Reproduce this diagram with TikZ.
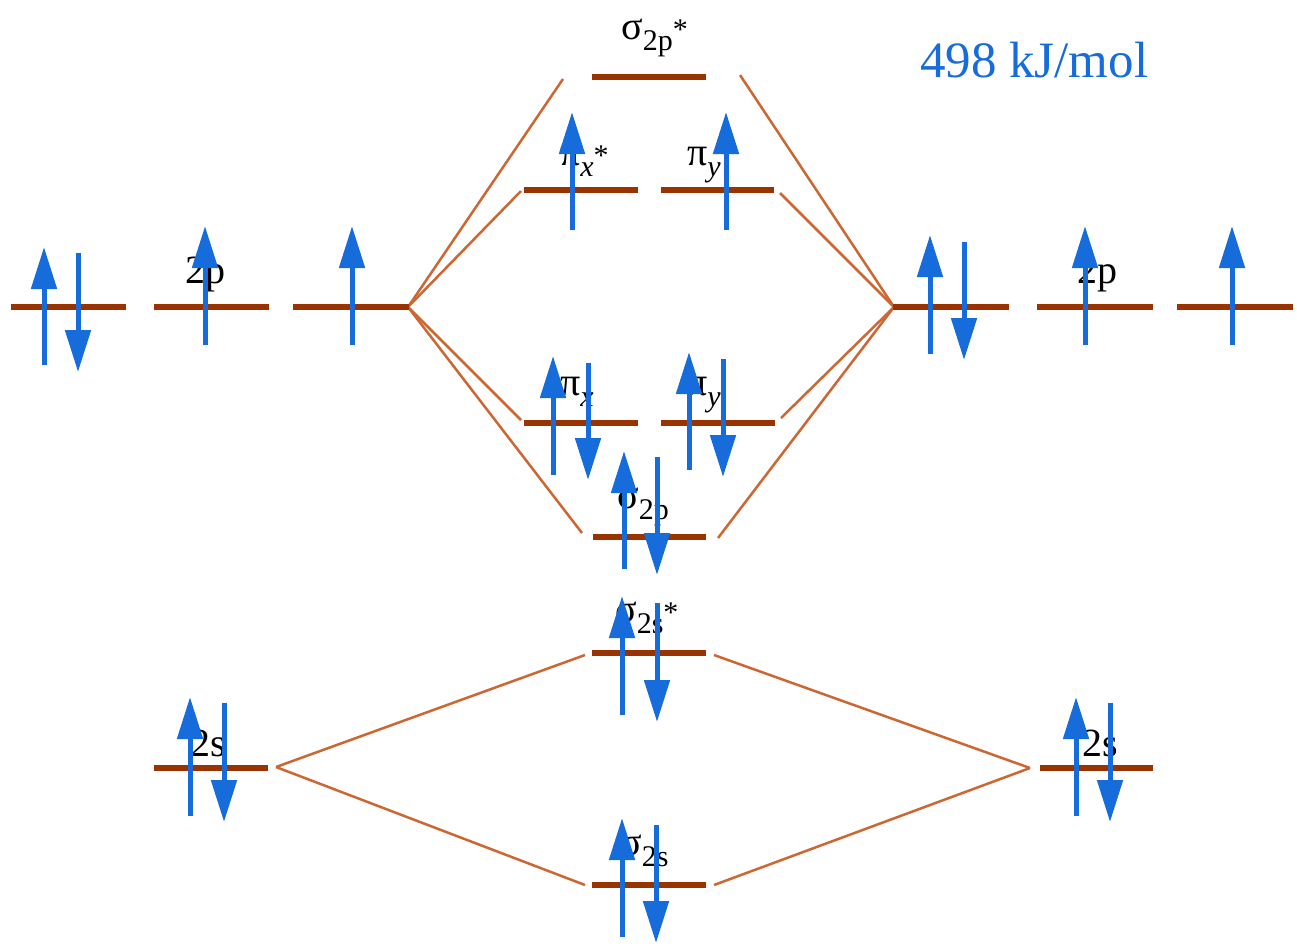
\documentclass[tikz,border=0pt]{standalone}
\usepackage{fontspec}
\setmainfont{Liberation Serif}
\usetikzlibrary{arrows.meta}
\definecolor{lvl}{RGB}{153,51,0}
\definecolor{con}{RGB}{204,102,51}
\definecolor{eblue}{RGB}{22,108,218}
\tikzset{
  level/.style={draw=lvl, line width=6pt},
  conn/.style={draw=con, line width=2.5pt},
  elec/.style={draw=eblue, line width=5pt, -{Triangle[length=42pt,width=25pt]}},
  lbl/.style={font=\fontsize{40}{40}\selectfont, inner sep=0pt, anchor=base west},
}
\newcommand{\mylab}[3]{#1\raisebox{-11pt}{\fontsize{30}{30}\selectfont #2}{\fontsize{30}{30}\selectfont #3}}
\newcommand{\eup}[3]{\draw[elec] (#1,#3) -- (#1,#2);}
\newcommand{\edn}[3]{\draw[elec] (#1,#2) -- (#1,#3);}
\begin{document}
\begin{tikzpicture}[x=1pt,y=-1pt]
\useasboundingbox (0,0) rectangle (1297,951);
% connector end points
\coordinate (pL) at (408,307);
\coordinate (pR) at (894,307);
\coordinate (sL) at (276,767);
\coordinate (sR) at (1030,768);
\coordinate (ssL) at (563,79);   \coordinate (ssR) at (740,75);
\coordinate (pisL) at (521,191); \coordinate (pisR) at (780,193);
\coordinate (piL) at (521,420);  \coordinate (piR) at (781,418);
\coordinate (spL) at (582,533);  \coordinate (spR) at (718,538);
\coordinate (s2sL) at (585,655); \coordinate (s2sR) at (714,655);
\coordinate (s2L) at (585,885);  \coordinate (s2R) at (714,885);
% connectors
\foreach \t in {ssL,pisL,piL,spL} \draw[conn] (pL) -- (\t);
\foreach \t in {ssR,pisR,piR,spR} \draw[conn] (pR) -- (\t);
\foreach \t in {s2sL,s2L} \draw[conn] (sL) -- (\t);
\foreach \t in {s2sR,s2R} \draw[conn] (sR) -- (\t);
% levels
\draw[level] (11,307) -- (126,307);
\draw[level] (154,307) -- (269,307);
\draw[level] (293,307) -- (409,307);
\draw[level] (893,307) -- (1009,307);
\draw[level] (1037,307) -- (1153,307);
\draw[level] (1177,307) -- (1293,307);
\draw[level] (592,77) -- (706,77);
\draw[level] (524,190) -- (638,190);
\draw[level] (661,190) -- (774,190);
\draw[level] (524,423) -- (638,423);
\draw[level] (661,423) -- (775,423);
\draw[level] (593,537) -- (706,537);
\draw[level] (592,653) -- (706,653);
\draw[level] (592,885) -- (706,885);
\draw[level] (154,768) -- (268,768);
\draw[level] (1040,768) -- (1153,768);
% labels
\node[lbl] (l2pL) at (185,283) {2p};
\node[lbl] (l2pR) at (1077,283) {2p};
\node[lbl] (l2sL) at (190,756) {2s};
\node[lbl] (l2sR) at (1082,756) {2s};
\node[lbl] (lssp) at (621,39) {\mylab{σ}{2p}{*}};
\node[lbl] (lpisx) at (560,165) {\mylab{π}{\itshape x}{*}};
\node[lbl] (lpisy) at (687,165) {\mylab{π}{\itshape y}{*}};
\node[lbl] (lpix) at (560,395) {\mylab{π}{\itshape x}{}};
\node[lbl] (lpiy) at (687,395) {\mylab{π}{\itshape y}{}};
\node[lbl] (lsp) at (617,508) {\mylab{σ}{2p}{}};
\node[lbl] (lsss) at (615,622) {\mylab{σ}{2s}{*}};
\node[lbl] (lss) at (620,855) {\mylab{σ}{2s}{}};
\node[anchor=base west, inner sep=0pt, text=eblue, font=\fontsize{51}{51}\selectfont] (energy) at (920,77) {498 kJ/mol};
% electrons
\eup{44}{247}{365} \edn{78}{253}{372}
\eup{205}{226}{345}
\eup{352}{226}{345}
\eup{930}{235}{354} \edn{964}{242}{360}
\eup{1085}{226}{345}
\eup{1232}{226}{345}
\eup{572}{112}{230}
\eup{726}{112}{230}
\eup{553}{356}{475} \edn{588}{363}{480}
\eup{689}{352}{470} \edn{723}{359}{477}
\eup{624}{451}{569} \edn{657}{457}{575}
\eup{622}{596}{715} \edn{657}{603}{722}
\eup{622}{818}{937} \edn{656}{825}{943}
\eup{190}{697}{816} \edn{224}{703}{822}
\eup{1076}{697}{816} \edn{1110}{703}{822}
\end{tikzpicture}
\end{document}
